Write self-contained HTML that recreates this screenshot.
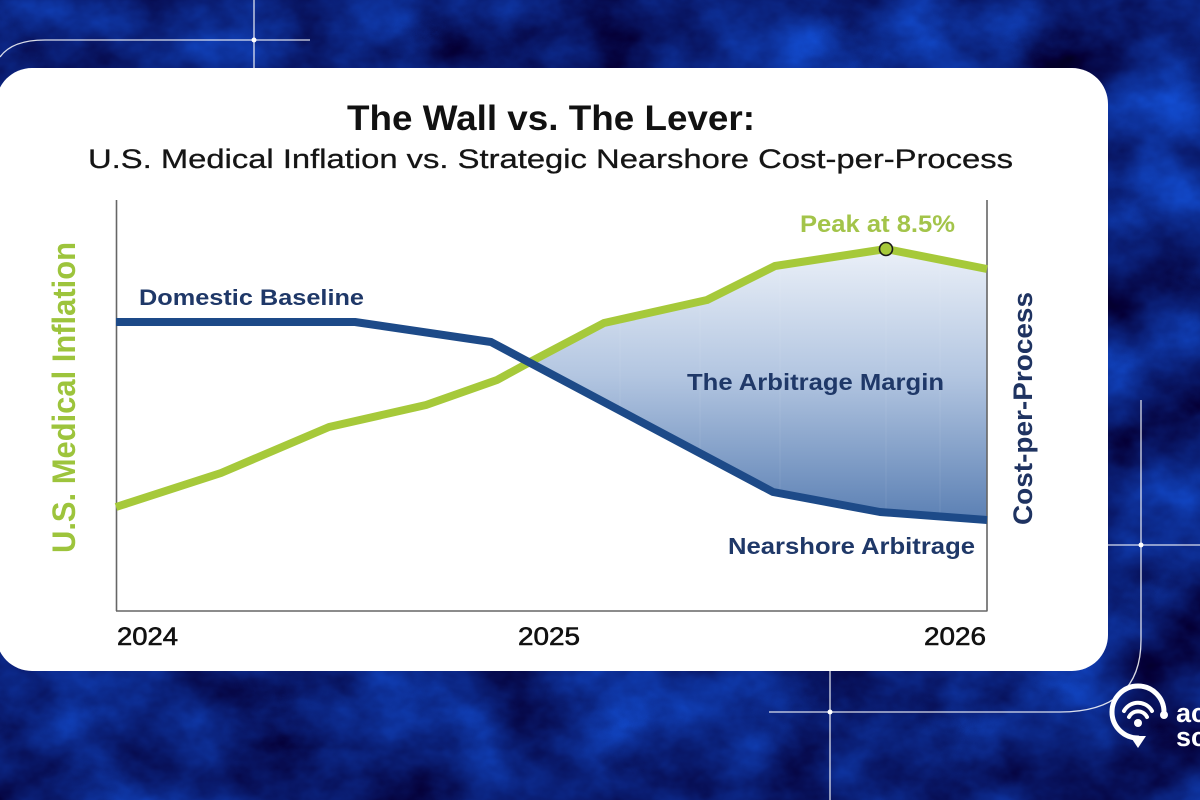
<!DOCTYPE html>
<html>
<head>
<meta charset="utf-8">
<style>
  html, body { margin:0; padding:0; width:1200px; height:800px; overflow:hidden; background:#0c217a; }
  svg { display:block; }
  text { font-family: "Liberation Sans", Arial, sans-serif; }
</style>
</head>
<body>
<svg width="1200" height="800" viewBox="0 0 1200 800" xmlns="http://www.w3.org/2000/svg">
  <defs>
    <filter id="marble" x="0" y="0" width="1200" height="800" filterUnits="userSpaceOnUse" color-interpolation-filters="sRGB">
      <feTurbulence type="fractalNoise" baseFrequency="0.009 0.012" numOctaves="5" seed="7" result="n"/>
      <feColorMatrix in="n" type="matrix"
        values="0.08 0 0 0 0.0
                0.45 0 0 0 -0.10
                0.90 0 0 0 0.02
                0 0 0 0 1"/>
    </filter>
    <linearGradient id="fillg" x1="0" y1="255" x2="0" y2="522" gradientUnits="userSpaceOnUse">
      <stop offset="0" stop-color="#e8eef7"/>
      <stop offset="0.45" stop-color="#b3c6e1"/>
      <stop offset="1" stop-color="#5a7fb3"/>
    </linearGradient>
  </defs>

  <!-- background -->
  <rect x="0" y="0" width="1200" height="800" fill="#0c217a"/>
  <rect x="0" y="0" width="1200" height="800" filter="url(#marble)"/>

  <!-- decorative lines -->
  <g stroke="#ffffff" stroke-opacity="0.85" stroke-width="1.3" fill="none">
    <path d="M0 57 Q12 40 45 40 H310"/>
    <line x1="254" y1="0" x2="254" y2="68"/>
    <path d="M769 712 H1060 Q1141 712 1141 640 V400"/>
    <line x1="1108" y1="545" x2="1200" y2="545"/>
    <line x1="830" y1="671" x2="830" y2="800"/>
  </g>
  <g fill="#ffffff">
    <circle cx="254" cy="40" r="2.5"/>
    <circle cx="1141" cy="545" r="2.5"/>
    <circle cx="830" cy="712" r="2.5"/>
  </g>

  <!-- logo -->
  <g fill="none" stroke="#ffffff" stroke-linecap="round">
    <path d="M1164 712 A26 26 0 1 0 1138 738" stroke-width="5"/>
    <path d="M1124 711 A16 16 0 0 1 1152 711" stroke-width="4"/>
    <path d="M1129 717 A10 10 0 0 1 1147 717" stroke-width="4"/>
  </g>
  <g fill="#ffffff">
    <circle cx="1138" cy="723" r="4"/>
    <circle cx="1164" cy="715" r="4"/>
    <path d="M1130 736 L1146 736 L1138 748 Z"/>
    <text x="1176" y="722" font-size="27" font-weight="bold" fill="#ffffff">ac</text>
    <text x="1176" y="746" font-size="27" font-weight="bold" fill="#ffffff">sc</text>
  </g>

  <!-- card -->
  <rect x="-4" y="68" width="1112" height="603" rx="36" ry="36" fill="#ffffff"/>

  <!-- title -->
  <text x="347" y="130" font-size="35" font-weight="bold" fill="#111111" textLength="408" lengthAdjust="spacingAndGlyphs">The Wall vs. The Lever:</text>
  <text x="88" y="168" font-size="27" fill="#151515" stroke="#151515" stroke-width="0.3" textLength="925" lengthAdjust="spacingAndGlyphs">U.S. Medical Inflation vs. Strategic Nearshore Cost-per-Process</text>

  <!-- fill area -->
  <polygon points="530,363 604,323 707,300 775,266 886,249 987,269 987,520 880,512 773,492 530,363" fill="url(#fillg)"/>
  <g stroke="#ffffff" stroke-opacity="0.08" stroke-width="1">
    <line x1="620" y1="250" x2="620" y2="520"/>
    <line x1="700" y1="250" x2="700" y2="520"/>
    <line x1="780" y1="250" x2="780" y2="520"/>
    <line x1="886" y1="250" x2="886" y2="520"/>
    <line x1="940" y1="250" x2="940" y2="520"/>
  </g>

  <!-- axes -->
  <g stroke="#666666" stroke-width="1.6" fill="none">
    <line x1="116.5" y1="200" x2="116.5" y2="611"/>
    <line x1="987" y1="200" x2="987" y2="611"/>
    <line x1="116" y1="611" x2="987.5" y2="611"/>
  </g>

  <!-- green line -->
  <polyline points="116,507 221,473 329,427 426,405 497,380 530,362 604,323 707,300 775,266 886,249 987,269"
    fill="none" stroke="#a6c93a" stroke-width="8" stroke-linejoin="round" stroke-linecap="butt"/>
  <!-- blue line -->
  <polyline points="116,322 355,322 491,342 773,492 880,512 987,520"
    fill="none" stroke="#1d4a88" stroke-width="8" stroke-linejoin="round" stroke-linecap="butt"/>

  <!-- peak marker -->
  <circle cx="886" cy="249" r="6.5" fill="#a6c93a" stroke="#1a1a1a" stroke-width="1.6"/>

  <!-- annotations -->
  <text x="800" y="232" font-size="24" font-weight="bold" fill="#a3c44a" textLength="155" lengthAdjust="spacingAndGlyphs">Peak at 8.5%</text>
  <text x="139" y="305" font-size="22" font-weight="bold" fill="#1f3868" textLength="225" lengthAdjust="spacingAndGlyphs">Domestic Baseline</text>
  <text x="687" y="390" font-size="23" font-weight="bold" fill="#1f3868" textLength="257" lengthAdjust="spacingAndGlyphs">The Arbitrage Margin</text>
  <text x="728" y="554" font-size="23" font-weight="bold" fill="#1f3868" textLength="247" lengthAdjust="spacingAndGlyphs">Nearshore Arbitrage</text>

  <!-- axis titles -->
  <text transform="translate(75,553) rotate(-90)" x="0" y="0" font-size="32" font-weight="bold" fill="#9dc43c" textLength="311" lengthAdjust="spacingAndGlyphs">U.S. Medical Inflation</text>
  <text transform="translate(1032,525) rotate(-90)" x="0" y="0" font-size="27" font-weight="bold" fill="#1f3361" textLength="233" lengthAdjust="spacingAndGlyphs">Cost-per-Process</text>

  <!-- x ticks -->
  <g font-size="25" fill="#111111" stroke="#111111" stroke-width="0.6">
    <text x="117" y="645" textLength="61" lengthAdjust="spacingAndGlyphs">2024</text>
    <text x="518" y="645" textLength="62" lengthAdjust="spacingAndGlyphs">2025</text>
    <text x="924" y="645" textLength="62" lengthAdjust="spacingAndGlyphs">2026</text>
  </g>
</svg>
</body>
</html>
